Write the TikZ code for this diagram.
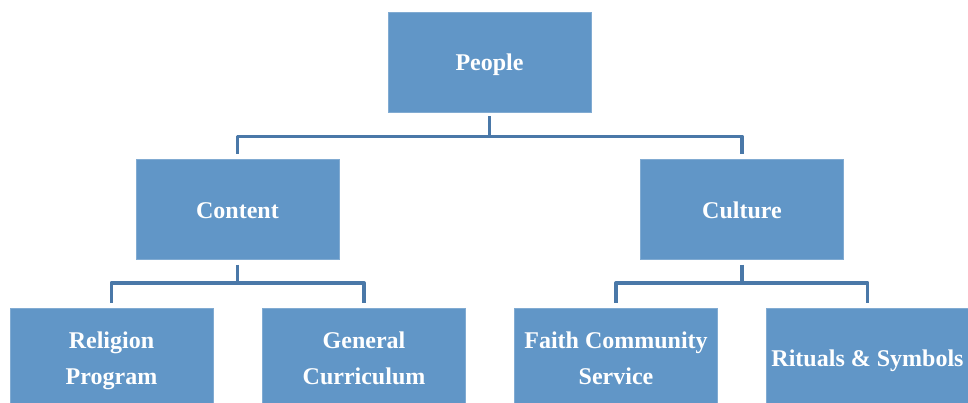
\documentclass[tikz,border=0pt]{standalone}
\usepackage{fontspec}
\setmainfont{Liberation Serif}
\definecolor{boxblue}{RGB}{97,150,199}
\definecolor{lineblue}{RGB}{74,120,168}
\newcommand\lnstrut{\rule[-9.5pt]{0pt}{36pt}}
\begin{document}
\begin{tikzpicture}[x=1pt,y=-1pt,
  box/.style={draw=boxblue!80!white, line width=0.6pt, fill=boxblue, minimum width=203pt, minimum height=100pt,
    inner sep=0pt, text=white, align=center,
    font=\fontsize{24}{36}\selectfont\bfseries},
  conn/.style={draw=lineblue, line width=3.6pt, line join=round}]
\useasboundingbox (0,0) rectangle (968,402);
\node[box] (people) at (489.5,62) {\lnstrut People};
\node[box] (content) at (237.5,209.5) {\lnstrut Content};
\node[box] (culture) at (742,209.5) {\lnstrut Culture};
\node[box] (religion) at (111.5,358) {\lnstrut Religion\\\lnstrut Program};
\node[box] (general) at (364,358) {\lnstrut General\\\lnstrut Curriculum};
\node[box] (faith) at (616,358) {\lnstrut Faith Community\\\lnstrut Service};
\node[box] (rituals) at (867.5,358) {\lnstrut Rituals \& Symbols};
\draw[conn] ([yshift=-4pt]people.south) -- ++(0,20) -| ([yshift=5pt]content.north);
\draw[conn] ([yshift=-4pt]people.south) -- ++(0,20) -| ([yshift=5pt]culture.north);
\draw[conn] ([yshift=-5pt]content.south) -- ++(0,18) -| ([yshift=5pt]religion.north);
\draw[conn] ([yshift=-5pt]content.south) -- ++(0,18) -| ([yshift=5pt]general.north);
\draw[conn] ([yshift=-5pt]culture.south) -- ++(0,18) -| ([yshift=5pt]faith.north);
\draw[conn] ([yshift=-5pt]culture.south) -- ++(0,18) -| ([yshift=5pt]rituals.north);
\end{tikzpicture}
\end{document}
